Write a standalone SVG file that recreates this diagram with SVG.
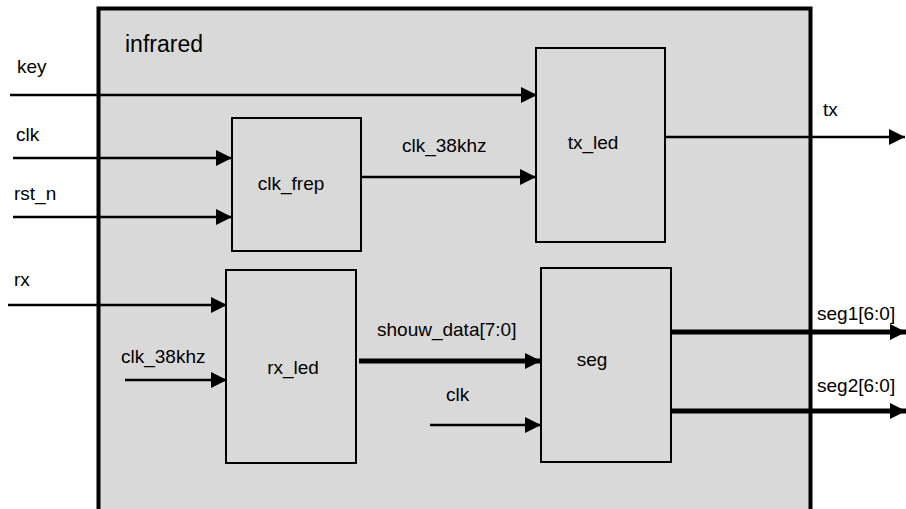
<svg xmlns="http://www.w3.org/2000/svg" width="906" height="509" viewBox="0 0 906 509">
  <style>
    .lbl { font-family: "Liberation Sans", Arial, sans-serif; font-size: 19px; fill: #000; }
    .title { font-family: "Liberation Sans", Arial, sans-serif; font-size: 23px; fill: #000; }
    .box { fill: #d9d9d9; stroke: #000; stroke-width: 2; }
    .w { stroke: #000; stroke-width: 2.5; fill: none; }
    .bus { stroke: #000; stroke-width: 5; fill: none; }
  </style>
  <defs>
    <marker id="arr" markerUnits="userSpaceOnUse" markerWidth="16" markerHeight="16" refX="16" refY="8" orient="auto">
      <path d="M0,0 L16,8 L0,16 z" fill="#000"/>
    </marker>
  </defs>
  <rect width="906" height="509" fill="#fff"/>

  <g id="infrared">
    <rect x="98.5" y="8.5" width="712" height="520" fill="#d9d9d9" stroke="#000" stroke-width="4"/>
    <text class="title" x="125" y="52">infrared</text>
  </g>

  <g id="clk_frep">
    <rect class="box" x="232" y="118" width="129" height="133"/>
    <text class="lbl" x="291" y="190" text-anchor="middle">clk_frep</text>
  </g>
  <g id="tx_led">
    <rect class="box" x="536" y="48" width="129" height="194"/>
    <text class="lbl" x="593" y="149" text-anchor="middle">tx_led</text>
  </g>
  <g id="rx_led">
    <rect class="box" x="226" y="270" width="130" height="193"/>
    <text class="lbl" x="293" y="374" text-anchor="middle">rx_led</text>
  </g>
  <g id="seg">
    <rect class="box" x="541" y="268" width="130" height="194"/>
    <text class="lbl" x="592" y="366" text-anchor="middle">seg</text>
  </g>

  <g id="connectors">
    <line class="w" x1="10" y1="95" x2="537" y2="95" marker-end="url(#arr)"/>
    <line class="w" x1="13" y1="158" x2="232" y2="158" marker-end="url(#arr)"/>
    <line class="w" x1="13" y1="217" x2="232" y2="217" marker-end="url(#arr)"/>
    <line class="w" x1="361" y1="177" x2="536" y2="177" marker-end="url(#arr)"/>
    <line class="w" x1="666" y1="137" x2="905" y2="137" marker-end="url(#arr)"/>
    <line class="w" x1="8" y1="305" x2="227" y2="305" marker-end="url(#arr)"/>
    <line class="w" x1="125" y1="380" x2="227" y2="380" marker-end="url(#arr)"/>
    <line class="bus" x1="359" y1="361" x2="541" y2="361" marker-end="url(#arr)"/>
    <line class="w" x1="430" y1="425" x2="541" y2="425" marker-end="url(#arr)"/>
    <line class="bus" x1="672" y1="332" x2="906" y2="332" marker-end="url(#arr)"/>
    <line class="bus" x1="672" y1="411" x2="906" y2="411" marker-end="url(#arr)"/>
  </g>

  <g id="labels">
    <text class="lbl" x="17" y="73">key</text>
    <text class="lbl" x="16" y="141">clk</text>
    <text class="lbl" x="14" y="200">rst_n</text>
    <text class="lbl" x="402" y="152">clk_38khz</text>
    <text class="lbl" x="823" y="116">tx</text>
    <text class="lbl" x="14" y="286">rx</text>
    <text class="lbl" x="121" y="363">clk_38khz</text>
    <text class="lbl" x="377" y="336">shouw_data[7:0]</text>
    <text class="lbl" x="446" y="401">clk</text>
    <text class="lbl" x="817" y="320">seg1[6:0]</text>
    <text class="lbl" x="817" y="392">seg2[6:0]</text>
  </g>
</svg>
